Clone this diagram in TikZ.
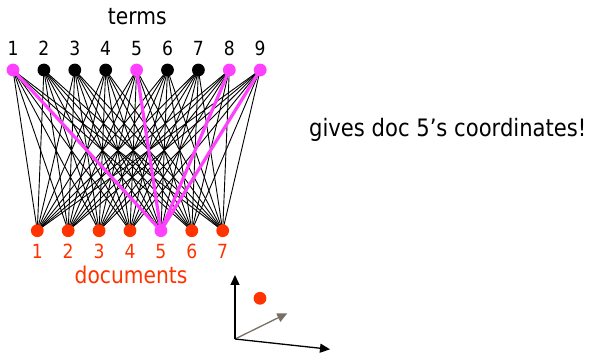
\documentclass[tikz,border=0pt]{standalone}
\usepackage{fontspec}
\setmainfont{DejaVu Sans}[FakeStretch=0.88]
\usetikzlibrary{arrows.meta}
\definecolor{mag}{RGB}{255,64,255}
\definecolor{dred}{RGB}{255,51,0}
\definecolor{axgrey}{RGB}{120,112,102}
\pgfdeclarelayer{bg}
\pgfsetlayers{bg,main}
\begin{document}
\begin{tikzpicture}[x=1pt,y=-1pt,
  tdot/.style={circle,fill=black,minimum size=12.8pt,inner sep=0pt},
  mdot/.style={circle,fill=mag,minimum size=12.8pt,inner sep=0pt},
  rdot/.style={circle,fill=dred,minimum size=12.8pt,inner sep=0pt},
  tlabel/.style={font=\fontsize{19.5}{19.5}\selectfont,inner sep=0pt,anchor=base},
  dlabel/.style={font=\fontsize{19.5}{19.5}\selectfont,text=dred,inner sep=0pt,anchor=base},
  edge/.style={draw=black,line width=0.9pt},
  medge/.style={draw=mag,line width=3.2pt},
  axis/.style={draw=black,line width=1.3pt,-{Triangle[length=10pt,width=9pt]}},
  gaxis/.style={draw=axgrey,line width=1.3pt,-{Triangle[length=10pt,width=9pt]}}]
\useasboundingbox (0,0) rectangle (589,355);
\node[font=\fontsize{23}{23}\selectfont,inner sep=0pt,anchor=base] (terms) at (137.3,25) {terms};
\foreach \i in {1,...,9} {
  \pgfmathsetmacro{\xx}{13+30.9*(\i-1)}
  \node[tlabel] (tl\i) at (\xx,56) {\i};
}
\foreach \i in {1,5,8,9} {
  \pgfmathsetmacro{\xx}{13+30.9*(\i-1)}
  \node[mdot] (t\i) at (\xx,70) {};
}
\foreach \i in {2,3,4,6,7} {
  \pgfmathsetmacro{\xx}{13+30.9*(\i-1)}
  \node[tdot] (t\i) at (\xx,70) {};
}
\foreach \j in {1,2,3,4,6,7} {
  \pgfmathsetmacro{\xx}{37.3+30.9*(\j-1)}
  \node[rdot] (d\j) at (\xx,230.7) {};
}
\node[mdot] (d5) at (160.9,230.7) {};
\foreach \j in {1,...,7} {
  \pgfmathsetmacro{\xx}{37.3+30.9*(\j-1)}
  \node[dlabel] (dl\j) at (\xx,259) {\j};
}
\node[font=\fontsize{23}{23}\selectfont,text=dred,inner sep=0pt,anchor=base] (docs) at (131,283.3) {documents};
\begin{pgfonlayer}{bg}
\foreach \i in {1,...,9} {
  \foreach \j in {1,...,7} {
    \draw[edge] (t\i.center) -- (d\j.center);
  }
}
\foreach \i in {1,5,8,9} {
  \draw[medge] (t\i.center) -- (d5.center);
}
\end{pgfonlayer}
\node[font=\fontsize{24}{24}\selectfont,inner sep=0pt,anchor=base west] (gives) at (309,136.7) {gives doc 5’s coordinates!};
\coordinate (o) at (235,339);
\coordinate (ay) at (235,275);
\coordinate (ax) at (330,349.3);
\coordinate (az) at (287.3,313.3);
\draw[gaxis] (o) -- (az);
\draw[axis] (o) -- (ay);
\draw[axis] (o) -- (ax);
\node[rdot] (pt) at (260,298.3) {};
\end{tikzpicture}
\end{document}
